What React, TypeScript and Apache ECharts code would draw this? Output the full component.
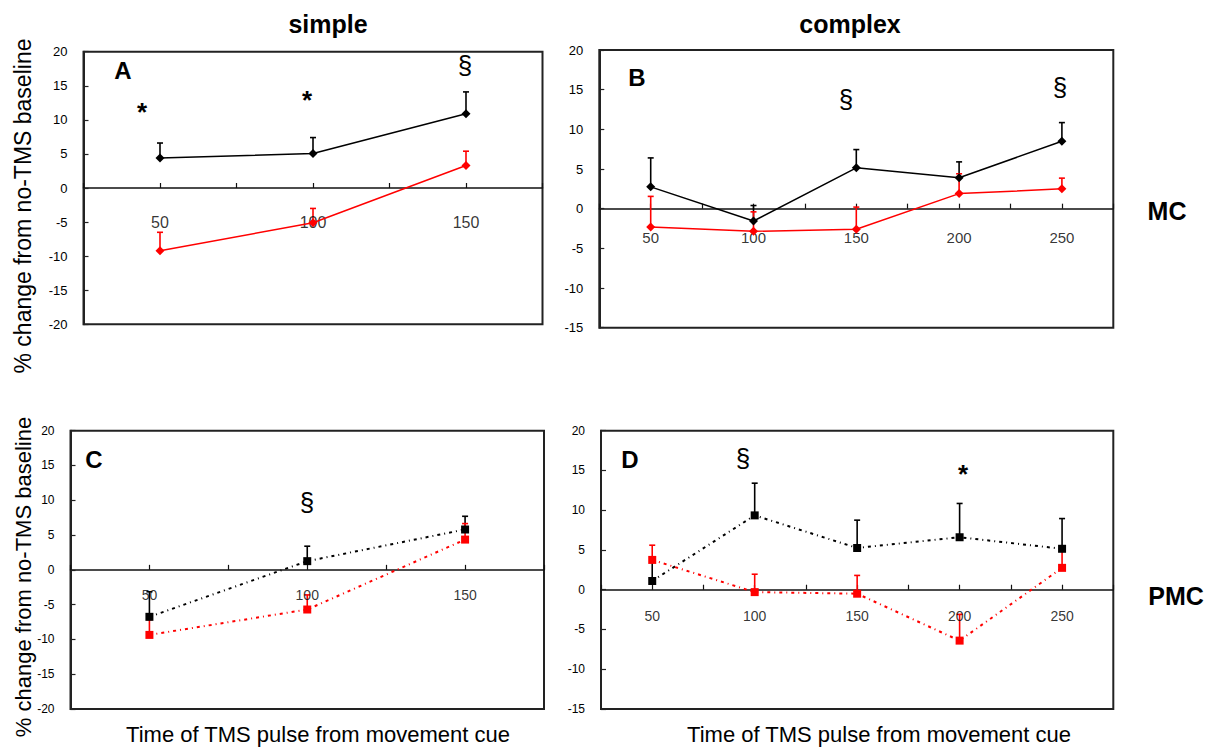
import React, { useEffect, useRef } from "react";
import * as echarts from "echarts";

// ---- data ----
const simpleTimes = [50, 100, 150];
const complexTimes = [50, 100, 150, 200, 250];

// Panel A (MC, simple) – diamonds, solid lines
const aBlack = [4.4, 5.05, 10.9];
const aBlackErr = [2.2, 2.35, 3.2];
const aRed = [-9.2, -5.1, 3.3];
const aRedErr = [2.7, 2.1, 2.1];

// Panel B (MC, complex)
const bBlack = [2.75, -1.55, 5.15, 3.9, 8.5];
const bBlackErr = [3.65, 1.95, 2.3, 2.0, 2.35];
const bRed = [-2.3, -2.85, -2.6, 1.9, 2.5];
const bRedErr = [3.85, 2.45, 2.8, 2.5, 1.35];

// Panel C (PMC, simple) – squares, dotted lines
const cBlack = [-6.75, 1.25, 5.8];
const cBlackErr = [3.6, 2.15, 1.9];
const cRed = [-9.35, -5.7, 4.35];
const cRedErr = [2.2, 2.1, 2.3];

// Panel D (PMC, complex)
const dBlack = [1.1, 9.35, 5.25, 6.6, 5.15];
const dBlackErr = [2.5, 4.05, 3.5, 4.25, 3.8];
const dRed = [3.75, -0.3, -0.5, -6.4, 2.75];
const dRedErr = [1.85, 2.25, 2.3, 3.3, 2.3];

const columnTitles = ["simple", "complex"];
const rowTitles = ["MC", "PMC"];
const panelLetters = ["A", "B", "C", "D"];
const xTitle = "Time of TMS pulse from movement cue";
const yTitle = "% change from no-TMS baseline";

const FONT = "'Liberation Sans', Arial, Helvetica, sans-serif";
const BLACK = "#000000";
const RED = "#ff0000";

function pairs(xs: number[], ys: number[]) {
  return xs.map((x, i) => [x, ys[i]]);
}
function errData(xs: number[], ys: number[], es: number[]) {
  return xs.map((x, i) => [x, ys[i], ys[i] + es[i]]);
}

function errorSeries(idx: number, xs: number[], ys: number[], es: number[], color: string) {
  return {
    type: "custom",
    xAxisIndex: idx,
    yAxisIndex: idx,
    z: 1,
    silent: true,
    encode: { x: 0, y: 1 },
    data: errData(xs, ys, es),
    renderItem: (params: any, api: any) => {
      const x = api.value(0);
      const y = api.value(1);
      const top = api.value(2);
      const p0 = api.coord([x, y]);
      const p1 = api.coord([x, top]);
      return {
        type: "group",
        children: [
          {
            type: "line",
            shape: { x1: p0[0], y1: p0[1], x2: p1[0], y2: p1[1] },
            style: { stroke: color, lineWidth: 1.6 },
          },
          {
            type: "line",
            shape: { x1: p1[0] - 3, y1: p1[1], x2: p1[0] + 3, y2: p1[1] },
            style: { stroke: color, lineWidth: 1.6 },
          },
        ],
      };
    },
  };
}

function lineSeries(idx: number, xs: number[], ys: number[], color: string, dotted: boolean) {
  return {
    type: "line",
    xAxisIndex: idx,
    yAxisIndex: idx,
    z: 3,
    data: pairs(xs, ys),
    symbol: dotted ? "rect" : "diamond",
    symbolSize: dotted ? 8 : 9,
    itemStyle: { color },
    lineStyle: dotted
      ? { color, width: 2, type: [3, 4, 1, 4] }
      : { color, width: 1.5, type: "solid" },
  };
}

// x tick labels sitting just under the zero line (axis crosses at 0)
function xLabelSeries(idx: number, xs: number[], size: number, dist: number) {
  return {
    type: "scatter",
    xAxisIndex: idx,
    yAxisIndex: idx,
    z: 2,
    silent: true,
    symbol: "circle",
    symbolSize: 1,
    itemStyle: { color: "rgba(0,0,0,0)" },
    data: xs.map((x) => [x, 0]),
    label: {
      show: true,
      position: "bottom",
      distance: dist,
      color: "#000",
      fontSize: size,
      fontFamily: FONT,
      formatter: (p: any) => String(p.value[0]),
    },
  };
}

const grids = [
  { left: 83.5, top: 51.7, width: 459, height: 272.6 },
  { left: 599.3, top: 50, width: 514, height: 277.7 },
  { left: 70.5, top: 430.7, width: 473.5, height: 278.3 },
  { left: 601, top: 430.7, width: 512.3, height: 278.3 },
];
const yMins = [-20, -15, -20, -15];
const xMaxs = [175, 275, 175, 275];
const yLabelSize = [13, 13, 12, 12];

function textEl(text: string, x: number, y: number, size: number, weight: string, rotation = 0) {
  return {
    type: "text",
    x,
    y,
    rotation,
    style: {
      text,
      fill: "#000",
      font: `${weight} ${size}px ${FONT}`,
      align: "center",
      verticalAlign: "middle",
    },
  };
}

export default function App() {
  const ref = useRef<HTMLDivElement>(null);
  useEffect(() => {
    if (!ref.current) return;
    const chart = echarts.init(ref.current, undefined, { renderer: "svg" });
    const option: any = {
      animation: false,
      backgroundColor: "#ffffff",
      grid: grids.map((g) => ({
        ...g,
        show: true,
        borderColor: "#222",
        borderWidth: 2,
        backgroundColor: "transparent",
        containLabel: false,
      })),
      xAxis: grids.map((_, i) => ({
        type: "value",
        gridIndex: i,
        min: 25,
        max: xMaxs[i],
        interval: 25,
        axisLine: { show: true, onZero: true, lineStyle: { color: "#111", width: 1.5 } },
        axisTick: { show: true, inside: true, length: 5, lineStyle: { color: "#111", width: 1.2 } },
        splitLine: { show: false },
        axisLabel: { show: false },
      })),
      yAxis: grids.map((_, i) => ({
        type: "value",
        gridIndex: i,
        min: yMins[i],
        max: 20,
        interval: 5,
        axisLine: { show: true, onZero: false, lineStyle: { color: "#222", width: 2 } },
        axisTick: { show: true, inside: true, length: 5, lineStyle: { color: "#222", width: 1.2 } },
        splitLine: { show: false },
        axisLabel: {
          margin: 16,
          color: "#000",
          fontSize: yLabelSize[i],
          fontFamily: FONT,
        },
      })),
      series: [
        errorSeries(0, simpleTimes, aBlack, aBlackErr, BLACK),
        errorSeries(0, simpleTimes, aRed, aRedErr, RED),
        lineSeries(0, simpleTimes, aBlack, BLACK, false),
        lineSeries(0, simpleTimes, aRed, RED, false),
        xLabelSeries(0, simpleTimes, 16, 26),
        errorSeries(1, complexTimes, bBlack, bBlackErr, BLACK),
        errorSeries(1, complexTimes, bRed, bRedErr, RED),
        lineSeries(1, complexTimes, bBlack, BLACK, false),
        lineSeries(1, complexTimes, bRed, RED, false),
        xLabelSeries(1, complexTimes, 15, 21),
        errorSeries(2, simpleTimes, cBlack, cBlackErr, BLACK),
        errorSeries(2, simpleTimes, cRed, cRedErr, RED),
        lineSeries(2, simpleTimes, cBlack, BLACK, true),
        lineSeries(2, simpleTimes, cRed, RED, true),
        xLabelSeries(2, simpleTimes, 14, 18),
        errorSeries(3, complexTimes, dBlack, dBlackErr, BLACK),
        errorSeries(3, complexTimes, dRed, dRedErr, RED),
        lineSeries(3, complexTimes, dBlack, BLACK, true),
        lineSeries(3, complexTimes, dRed, RED, true),
        xLabelSeries(3, complexTimes, 14, 19),
      ],
      graphic: [
        textEl(columnTitles[0], 328, 24, 25, "bold"),
        textEl(columnTitles[1], 850, 24, 25, "bold"),
        textEl(rowTitles[0], 1167, 211, 25, "bold"),
        textEl(rowTitles[1], 1176, 596, 25, "bold"),
        textEl(panelLetters[0], 123, 70, 24, "bold"),
        textEl(panelLetters[1], 637, 77, 24, "bold"),
        textEl(panelLetters[2], 94, 459, 24, "bold"),
        textEl(panelLetters[3], 630, 459, 24, "bold"),
        textEl("*", 142, 112, 26, "bold"),
        textEl("*", 307, 100, 26, "bold"),
        textEl("*", 963, 474, 26, "bold"),
        textEl("§", 465, 65, 26, "normal"),
        textEl("§", 846, 99, 26, "normal"),
        textEl("§", 1060, 87, 26, "normal"),
        textEl("§", 307, 502, 26, "normal"),
        textEl("§", 743, 458, 26, "normal"),
        textEl(xTitle, 318, 734, 22, "normal"),
        textEl(xTitle, 879, 734, 22, "normal"),
        textEl(yTitle, 23, 206, 23, "normal", Math.PI / 2),
        textEl(yTitle, 23, 577, 22, "normal", Math.PI / 2),
      ],
    };
    chart.setOption(option);
    return () => chart.dispose();
  }, []);
  return (
    <div
      ref={ref}
      style={{ position: "absolute", left: 0, top: 0, width: 1217, height: 749, background: "#fff" }}
    />
  );
}
